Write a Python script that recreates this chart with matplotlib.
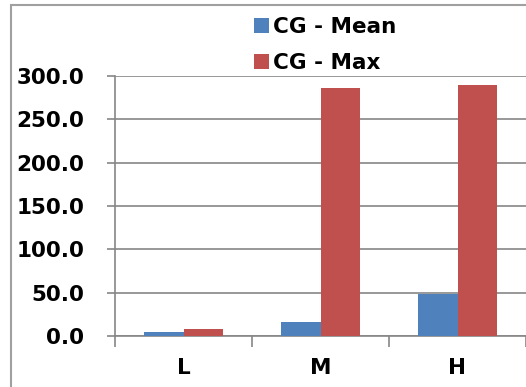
import matplotlib
matplotlib.use("Agg")
import matplotlib.pyplot as plt
from matplotlib.patches import Rectangle
import numpy as np

categories = ["L", "M", "H"]
mean_vals = [4.3, 16.1, 48.1]
max_vals = [7.7, 285.7, 289.2]
series_names = ["CG - Mean", "CG - Max"]
yticks = [0, 50, 100, 150, 200, 250, 300]

W, H = 526, 387
fig = plt.figure(figsize=(W/100, H/100), dpi=100)
plt.rcParams['font.family'] = ['DejaVu Sans']

# outer chart border (extends beyond right/bottom edges)
fig.patches.append(Rectangle((11/W, -0.1), 1.2, (H-5)/H + 0.1, transform=fig.transFigure,
                             fill=False, edgecolor='#a0a0a0', linewidth=1.5))

ax = fig.add_axes([115/W, (H-336)/H, (526-115)/W, 260/H])
x = np.arange(len(categories)) + 0.5
bw = 0.285
gridc = '#868686'
b1 = ax.bar(x - bw/2, mean_vals, bw, color='#4F81BD', label=series_names[0], zorder=3)
b2 = ax.bar(x + bw/2, max_vals, bw, color='#C0504D', label=series_names[1], zorder=3)

ax.set_xlim(0, 3)
ax.set_ylim(0, 300)
ax.set_yticks(yticks)
ax.set_yticklabels([f"{v:.1f}" for v in yticks], fontsize=15.5, fontweight='bold')
ax.set_xticks(x)
ax.set_xticklabels(categories, fontsize=15.5, fontweight='bold')
ax.tick_params(axis='x', length=0, pad=16)
ax.set_xticks([0, 1, 2, 3], minor=True)
ax.tick_params(axis='x', which='minor', length=8, color=gridc, width=1.2)
ax.tick_params(axis='y', length=6, color=gridc, width=1.2, pad=16)
ax.grid(axis='y', color=gridc, linewidth=1.2, zorder=0)
for s in ['top', 'right']:
    ax.spines[s].set_visible(False)
for s in ['left', 'bottom']:
    ax.spines[s].set_color(gridc)
    ax.spines[s].set_linewidth(1.2)

leg = fig.legend(handles=[b1, b2], labels=series_names, loc='upper left',
                 bbox_to_anchor=(243/W, 1 - 6.5/H), frameon=False,
                 prop={'size': 15.5, 'weight': 'bold'}, handlelength=0.7,
                 handleheight=0.7, handletextpad=0.2, labelspacing=0.72,
                 borderpad=0)

fig.savefig("out.png", dpi=100)
